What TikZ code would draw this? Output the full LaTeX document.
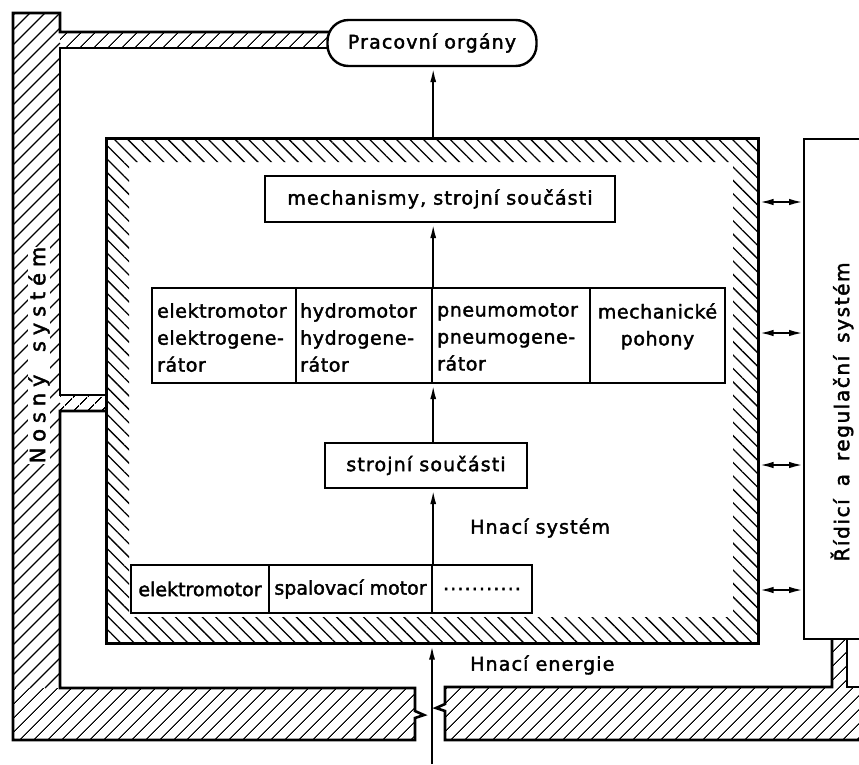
\documentclass[tikz,border=0pt]{standalone}
\usepackage{fontspec}
\setmainfont{DejaVu Sans}[LetterSpace=6,FakeBold=2]
\newfontfamily\midfont{DejaVu Sans}[LetterSpace=3,FakeBold=2]
\newfontfamily\tightfont{DejaVu Sans}[LetterSpace=0,FakeBold=2]
\newfontfamily\widefont{DejaVu Sans}[LetterSpace=28,FakeBold=2]
\newfontfamily\semiwidefont{DejaVu Sans}[LetterSpace=8,FakeBold=2]
\usetikzlibrary{arrows.meta,patterns.meta}

\begin{document}
\begin{tikzpicture}[x=1pt,y=-1pt,
  outline/.style={line width=2.6pt, line join=miter},
  hatchline/.style={line width=1.3pt},
  hatchNE/.style={pattern={Lines[angle=45,distance=10.5pt,line width=1.2pt]}},
  hatchNW/.style={pattern={Lines[angle=-45,distance=9.5pt,line width=1.3pt]}},
  txt/.style={font=\fontsize{19}{27}\selectfont},
  box/.style={draw, line width=2.4pt, fill=white, inner sep=4pt, txt},
  flow/.style={line width=2.2pt, -{Latex[length=15pt,width=6pt]}},
  both/.style={line width=2pt, {Latex[length=14pt,width=6.5pt]}-{Latex[length=14pt,width=6.5pt]}},
  lbl/.style={txt, inner sep=0pt}]
\useasboundingbox (0,0) rectangle (859,764);
\fill[white] (0,0) rectangle (859,764);

% ---------- Nosny system (hatched frame) ----------
% vertical bar: explicit hatch lines (x+y=c)
\foreach \cc in {73,88,...,700} {\draw[hatchline] (13,\cc-13) -- (60,\cc-60);}
\draw[hatchline] (13,15) -- (15,13);
\draw[hatchline] (13,30) -- (30,13);
\draw[hatchline] (13,45) -- (45,13);
\draw[hatchline] (15,688) -- (60,643);
\draw[hatchline] (30,688) -- (60,658);
\draw[hatchline] (45,688) -- (60,673);
% other parts: pattern
\fill[hatchNE] (60,32) rectangle (335,48);
\fill[hatchNE] (60,395) rectangle (105,411);
\fill[hatchNE] (13,688) rectangle (415,740);
\fill[hatchNE] (445,687) -- (832,687) -- (832,638) -- (847,638) -- (847,687) -- (880,687)
  -- (880,740) -- (445,740) -- cycle;
\fill[white] (28,247) rectangle (50,464);
\draw[outline] (335,32) -- (60,32) -- (60,13) -- (13,13) -- (13,740) -- (415,740)
  -- (415,718) -- (424,715) -- (415,711) -- (415,688) -- (60,688) -- (60,411) -- (105,411);
\draw[outline] (105,395) -- (60,395) -- (60,48) -- (335,48);
\draw[outline] (880,687) -- (847,687) -- (847,638);
\draw[outline] (832,638) -- (832,687) -- (445,687) -- (445,704) -- (436,708) -- (445,711)
  -- (445,740) -- (880,740);
\node[lbl, rotate=90, font=\widefont\fontsize{21}{27}\selectfont] (nosny) at (39,355)
  {Nosný\hspace{10pt} systém};

% ---------- Ridici a regulacni system ----------
\node[box, anchor=north west, minimum width=100, minimum height=500] (rid) at (803,138) {};
\node[lbl, rotate=90, font=\semiwidefont\fontsize{20}{27}\selectfont] (ridtext) at (842,412)
  {Řídicí\hspace{5pt} a\hspace{5pt} regulační\hspace{5pt} systém};

% ---------- Hnaci system (hatched box) ----------
\fill[hatchNW, even odd rule] (105,137) rectangle (757,642) (129,162) rectangle (733,617);
\node[draw, line width=2.6pt, anchor=north west, minimum width=652, minimum height=505, inner sep=0pt] (hs) at (105,137) {};

% ---------- boxes ----------
\node[box, rounded corners=21pt, minimum width=209, minimum height=46] (prac) at (432,43) {Pracovní orgány};
\node[box, minimum width=350, minimum height=46] (mech) at (440,199) {mechanismy, strojní součásti};

% motor row: cells and their texts
\node[box, minimum width=144, minimum height=95] (m1) at (224,335.5) {};
\node[box, minimum width=136, minimum height=95] (m2) at (364,335.5) {};
\node[box, minimum width=158, minimum height=95] (m3) at (511,335.5) {};
\node[box, minimum width=135, minimum height=95] (m4) at (657.5,335.5) {};
\node[lbl, anchor=north west, align=left, font=\midfont\fontsize{19}{27}\selectfont] (t1) at (157,303) {elektromotor\\elektrogene-\\rátor};
\node[lbl, anchor=north west, align=left, font=\midfont\fontsize{19}{27}\selectfont] (t2) at (300,303) {hydromotor\\hydrogene-\\rátor};
\node[lbl, anchor=north west, align=left, font=\midfont\fontsize{19}{27}\selectfont] (t3) at (437,303) {pneumomotor\\pneumogene-\\rátor};
\node[lbl, anchor=north, align=center, font=\midfont\fontsize{19}{27}\selectfont] (t4) at (657.5,303) {mechanické\\pohony};

\node[box, minimum width=202, minimum height=45] (stroj) at (426,465.5) {strojní součásti};

\node[box, minimum width=138, minimum height=48, font=\tightfont\fontsize{19}{27}\selectfont] (b1) at (200,589) {elektromotor};
\node[box, minimum width=163, minimum height=48, font=\tightfont\fontsize{19}{27}\selectfont] (b2) at (350.5,589) {spalovací motor};
\node[box, minimum width=100, minimum height=48] (b3) at (482,589) {...........};

% ---------- labels ----------
\node[lbl, anchor=west] (hsys) at (470,528) {Hnací systém};
\node[lbl, anchor=west] (hen) at (470,665) {Hnací energie};

% ---------- connectors ----------
\draw[flow] (hs.north -| m2.east) -- (prac.south -| m2.east);
\draw[flow] (m2.north east) -- (mech.south -| m2.north east);
\draw[flow] (stroj.north -| m2.east) -- (m2.south east);
\draw[flow] (b2.north east) -- (stroj.south -| b2.north east);
\coordinate (src) at (432,764);
\draw[flow] (src) -- (hs.south -| src);
\foreach \yy in {202,333,465,590}
  \draw[both] (hs.east |- 0,\yy) -- (rid.west |- 0,\yy);
\end{tikzpicture}
\end{document}
